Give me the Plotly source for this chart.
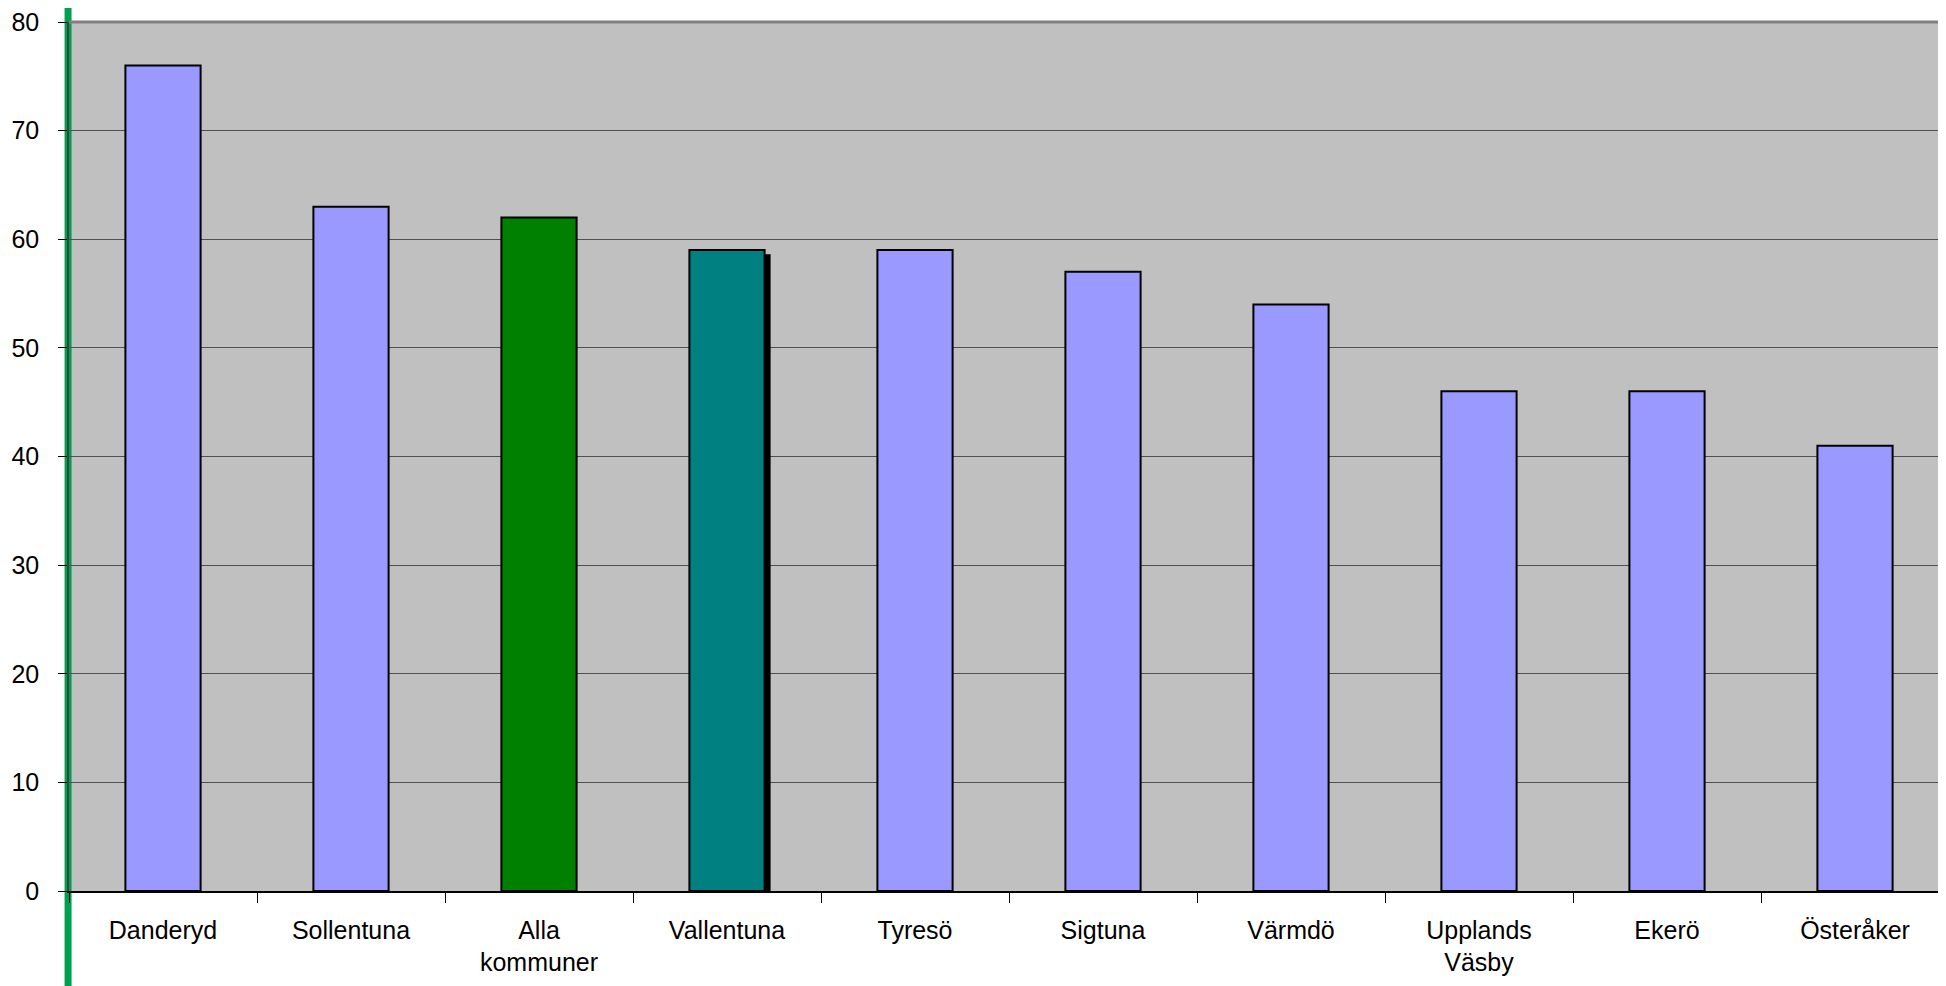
import plotly.graph_objects as go

kommuner = ["Danderyd", "Sollentuna", "Alla<br>kommuner", "Vallentuna", "Tyresö",
            "Sigtuna", "Värmdö", "Upplands<br>Väsby", "Ekerö", "Österåker"]
andel = [76, 63, 62, 59, 59, 57, 54, 46, 46, 41]
farger = ["#9999FF", "#9999FF", "#008000", "#008080", "#9999FF",
          "#9999FF", "#9999FF", "#9999FF", "#9999FF", "#9999FF"]

yticks = [0, 10, 20, 30, 40, 50, 60, 70, 80]

fig = go.Figure()

# shadow behind the Vallentuna bar
idx = kommuner.index("Vallentuna")
fig.add_trace(go.Bar(x=[kommuner[idx]], y=[andel[idx] - 0.37],
                     width=0.4, offset=-0.168,
                     marker=dict(color="black", line=dict(width=0)),
                     hoverinfo="skip", showlegend=False))

fig.add_trace(go.Bar(x=kommuner, y=andel, width=0.4, offset=-0.2,
                     marker=dict(color=farger, line=dict(color="black", width=2)),
                     showlegend=False))

fig.update_layout(
    width=1941, height=986,
    margin=dict(l=61, r=0, t=14, b=103),
    paper_bgcolor="white",
    plot_bgcolor="#C0C0C0",
    barmode="overlay",
    font=dict(family="Liberation Sans, Arial, sans-serif", size=25, color="black"),
    shapes=[
        dict(type="line", xref="paper", yref="paper", x0=-0.0005, x1=-0.0005,
             y0=-0.2, y1=1.1, line=dict(color="#00A050", width=7), layer="below"),
        dict(type="line", xref="paper", yref="paper", x0=0, x1=1, y0=1, y1=1,
             line=dict(color="#808080", width=3)),
    ],
)

fig.update_xaxes(
    type="category", categoryorder="array", categoryarray=kommuner,
    showgrid=False,
    showline=True, linecolor="black", linewidth=1.5,
    ticks="outside", tickson="boundaries", ticklen=10, tickcolor="black",
    tickfont=dict(size=25), ticklabelstandoff=16,
)
fig.update_yaxes(
    range=[0, 80], tickvals=yticks,
    showgrid=True, gridcolor="#505050", gridwidth=1,
    showline=True, linecolor="#404040", linewidth=1.5,
    ticks="outside", ticklen=9, tickcolor="black",
    zeroline=False, tickfont=dict(size=25),
    ticklabelstandoff=14, ticklabeloverflow="allow",
)

fig.write_html("out.html")
